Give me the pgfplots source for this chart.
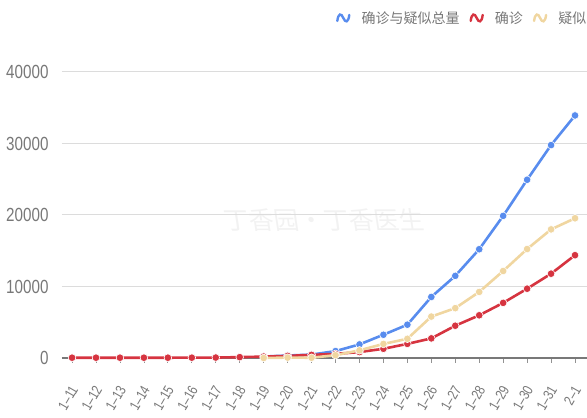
\documentclass[border=0pt]{standalone}
\usepackage{fontspec}
\setmainfont{Liberation Sans}
\newfontfamily\narrowfont[FakeStretch=0.8]{Liberation Sans}
\newfontfamily\cjk{Noto Sans CJK SC}
\usepackage{pgfplots}
\pgfplotsset{compat=1.18}
\definecolor{cblue}{RGB}{88,140,238}
\definecolor{cred}{RGB}{214,52,64}
\definecolor{cyel}{RGB}{240,214,160}
\definecolor{tgray}{RGB}{120,120,120}
\definecolor{ggray}{RGB}{220,220,220}
\definecolor{agray}{RGB}{120,120,120}
\begin{document}
\begin{tikzpicture}[x=1pt,y=1pt]
\useasboundingbox (0,0) rectangle (587,418);
\clip (0,0) rectangle (587,418);
\node[text=black!5, font=\cjk\fontsize{25}{25}\selectfont, anchor=center, xslant=-0.15] at (324,198) {丁香园·丁香医生};
\begin{axis}[
  at={(62pt,60pt)}, anchor=south west,
  scale only axis, width=525pt, height=286pt,
  xmin=-0.42, xmax=21.5, ymin=0, ymax=40000,
  clip=false,
  axis x line*=bottom, axis y line*=left,
  x axis line style={draw=agray, line width=1.3pt, -},
  y axis line style={draw=none, -},
  ytick={0,10000,20000,30000,40000},
  scaled y ticks=false,
  ymajorgrids, grid style={ggray, line width=1pt},
  xtick={0,...,21},
  xticklabels={1–11,1–12,1–13,1–14,1–15,1–16,1–17,1–18,1–19,1–20,1–21,1–22,1–23,1–24,1–25,1–26,1–27,1–28,1–29,1–30,1–31,2–1},
  tick align=outside,
  x tick style={draw=agray!80, line width=0.8pt},
  major tick length=5pt,
  y tick style={draw=none},
  /pgf/number format/assume math mode=true,
  /pgf/number format/1000 sep={},
  yticklabel style={font=\narrowfont\fontsize{19}{19}\selectfont, text=tgray, xshift=-5pt},
  xticklabel style={font=\narrowfont\fontsize{14.5}{14.5}\selectfont, text=tgray, xshift=4pt, yshift=-21pt, rotate=60, anchor=east},
  legend columns=3,
  legend style={draw=none, fill=none, at={(0.516,1.189)}, anchor=west,
    font=\cjk\fontsize{14}{14}\selectfont, text=tgray,
    /tikz/every even column/.append style={column sep=8pt},
    /tikz/every odd column/.append style={column sep=9pt}},
  legend image code/.code={\draw[line width=2.4pt, line cap=round, #1] (0pt,-3pt) .. controls (1pt,5pt) and (4pt,5pt) .. (6pt,0pt) .. controls (8pt,-5pt) and (11pt,-5pt) .. (12pt,3pt);},
]
\addplot[color=cblue, line width=2.6pt, mark=*, mark size=3.8pt, mark options={draw=white, line width=0.6pt, fill=cblue}] coordinates {
(8,198) (9,345) (10,477) (11,964) (12,1902) (13,3252) (14,4659) (15,8538) (16,11488) (17,15213) (18,19878) (19,24930) (20,29779) (21,33924)};
\addlegendentry{确诊与疑似总量}
\addplot[color=cred, line width=2.6pt, mark=*, mark size=3.8pt, mark options={draw=white, line width=0.6pt, fill=cred}] coordinates {
(0,41) (1,41) (2,41) (3,41) (4,41) (5,45) (6,62) (7,121) (8,198) (9,291) (10,440) (11,571) (12,830) (13,1287) (14,1975) (15,2744) (16,4515) (17,5974) (18,7711) (19,9692) (20,11791) (21,14380)};
\addlegendentry{确诊}
\addplot[color=cyel, line width=2.6pt, mark=*, mark size=3.8pt, mark options={draw=white, line width=0.6pt, fill=cyel}] coordinates {
(8,0) (9,54) (10,37) (11,393) (12,1072) (13,1965) (14,2684) (15,5794) (16,6973) (17,9239) (18,12167) (19,15238) (20,17988) (21,19544)};
\addlegendentry{疑似}
\end{axis}
\end{tikzpicture}
\end{document}
